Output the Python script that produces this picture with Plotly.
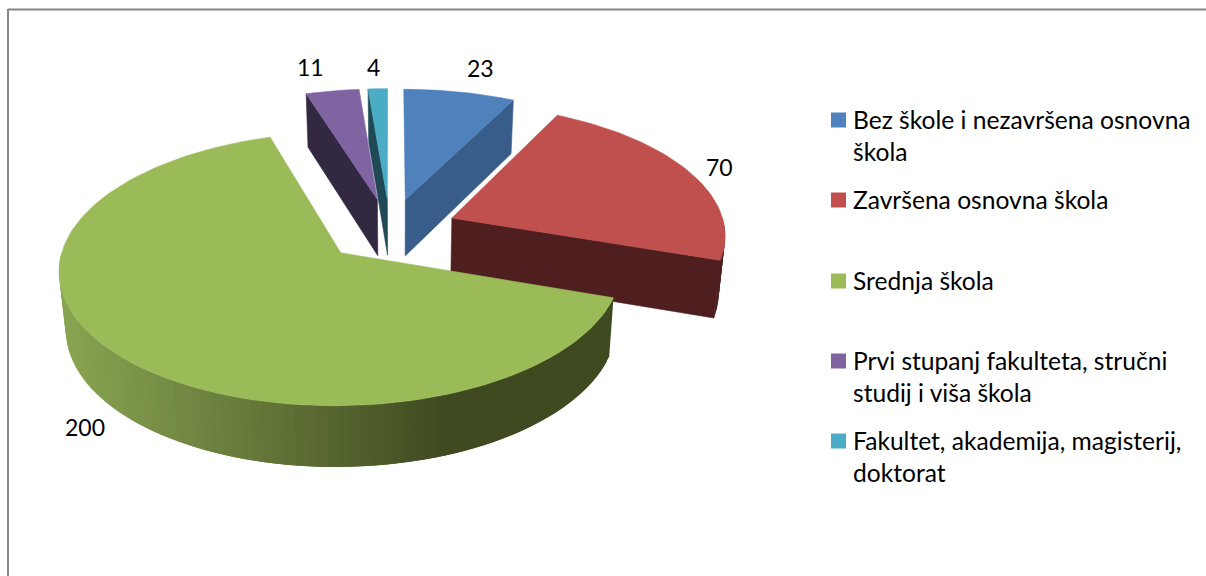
import math
import plotly.graph_objects as go

# ---- data ----
CATEGORIES = ["Bez škole i nezavršena osnovna škola", "Završena osnovna škola", "Srednja škola",
              "Prvi stupanj fakulteta, stručni studij i viša škola", "Fakultet, akademija, magisterij, doktorat"]
VALUES = [23, 70, 200, 11, 4]
LEGEND_LINES = [["Bez škole i nezavršena osnovna", "škola"], ["Završena osnovna škola"], ["Srednja škola"],
                ["Prvi stupanj fakulteta, stručni", "studij i viša škola"], ["Fakultet, akademija, magisterij,", "doktorat"]]

# ---- style and layout ----
TOP_COLORS = ["#4f81bd", "#c0504d", "#9bbb59", "#8064a2", "#4bacc6"]
SIDE_COLORS = ["#385d8a", "#4f1f1f", None, "#322842", "#1f4a55"]
GREEN_LEFT, GREEN_DARK = (138, 165, 82), (63, 74, 32)
LABEL_XY = [(480, 68), (719, 167), (85, 427), (310, 67), (373, 67)]
LEGEND_Y = [119, 199, 280, 360, 440]
LINE_GAP = 32
FONT = "Lato"
FONT_SIZE = 24.6
VALUE_FONT_SIZE = 23
CX, CY, F, G, P, EXPLODE, DEPTH = 390, 230, 273.5, 129.6, 0.115, 0.247, 57
VX, SHRINK = 400, 0.98
DRAW_ORDER = [4, 3, 0, 1, 2]


def top(X, Y):
    w = 1 + P * Y
    return CX + F * X / w, CY - G * Y / w


def bottom(X, Y):
    x, y = top(X, Y)
    w = 1 + P * Y
    return VX + (x - VX) * SHRINK, y + DEPTH / math.sqrt(w)


def world(deg, bis, r=1.0):
    a, b = math.radians(deg), math.radians(bis)
    return EXPLODE * math.sin(b) + r * math.sin(a), EXPLODE * math.cos(b) + r * math.cos(a)


def poly(points, color, name=None, lw=0.6):
    xs = [p[0] for p in points] + [points[0][0]]
    ys = [p[1] for p in points] + [points[0][1]]
    return go.Scatter(x=xs, y=ys, mode="lines", fill="toself", fillcolor=color,
                      line=dict(color=color, width=lw), hoverinfo="skip" if name is None else "name",
                      name=name or "", showlegend=False)


def green_shade(x):
    t = min(max((x - 60) / (442 - 60), 0), 1)
    return "rgb(%d,%d,%d)" % tuple(round(a + (b - a) * t) for a, b in zip(GREEN_LEFT, GREEN_DARK))


total = sum(VALUES)
starts, acc = [], 0.0
for v in VALUES:
    starts.append(acc)
    acc += v / total * 360

fig = go.Figure()
for i in DRAW_ORDER:
    a0 = starts[i]
    a1 = a0 + VALUES[i] / total * 360
    bis = (a0 + a1) / 2
    apex = world(0, bis, 0)
    # cut faces that look towards the viewer
    for ang, vis in ((a0, math.sin(math.radians(a0)) < -1e-6), (a1, math.sin(math.radians(a1)) > 1e-6)):
        if vis and SIDE_COLORS[i]:
            p = world(ang, bis)
            fig.add_trace(poly([top(*apex), top(*p), bottom(*p), bottom(*apex)], SIDE_COLORS[i]))
    # outer wall, front half only; each step overlaps the next so no seams show
    lo, hi = max(a0, 90), min(a1, 270)
    if hi > lo:
        n = max(2, int((hi - lo) / 2))
        for k in range(n):
            d0, d1 = lo + (hi - lo) * k / n, lo + (hi - lo) * min(k + 2, n) / n
            p0, p1 = world(d0, bis), world(d1, bis)
            quad = [top(*p0), top(*p1), bottom(*p1), bottom(*p0)]
            col = SIDE_COLORS[i] or green_shade(sum(q[0] for q in quad) / 4)
            fig.add_trace(poly(quad, col, lw=0))
    # top face
    n = max(4, int((a1 - a0) / 1.5))
    rim = [top(*world(a0 + (a1 - a0) * k / n, bis)) for k in range(n + 1)]
    fig.add_trace(poly([top(*apex)] + rim, TOP_COLORS[i], CATEGORIES[i]))

annotations = []
for v, (lx, ly) in zip(VALUES, LABEL_XY):
    annotations.append(dict(x=lx, y=ly, text=str(v), showarrow=False, xref="x", yref="y",
                            font=dict(family=FONT, size=VALUE_FONT_SIZE, color="#000000")))
for lines, ly in zip(LEGEND_LINES, LEGEND_Y):
    for k, t in enumerate(lines):
        annotations.append(dict(x=851, y=ly + k * LINE_GAP, text=t, showarrow=False, xref="x", yref="y",
                                xanchor="left", font=dict(family=FONT, size=FONT_SIZE, color="#000000")))

# legend swatches
fig.add_trace(go.Scatter(x=[838.5] * len(VALUES), y=[120, 200, 281, 361, 441], mode="markers",
                         marker=dict(symbol="square", size=15, color=TOP_COLORS, line=dict(width=0)),
                         hoverinfo="skip", showlegend=False))

fig.update_layout(
    width=1206, height=576, margin=dict(l=0, r=0, t=0, b=0),
    paper_bgcolor="white", plot_bgcolor="white", showlegend=False,
    xaxis=dict(range=[0, 1206], visible=False, fixedrange=True),
    yaxis=dict(range=[576, 0], visible=False, fixedrange=True),
    annotations=annotations,
    shapes=[dict(type="line", xref="x", yref="y", x0=8, x1=1206, y0=9.5, y1=9.5, line=dict(color="#868686", width=2)),
            dict(type="line", xref="x", yref="y", x0=8, x1=8, y0=9, y1=576, line=dict(color="#868686", width=2))],
)
fig.write_html("out.html", config=dict(displayModeBar=False), post_script="document.body.style.margin='0';")
